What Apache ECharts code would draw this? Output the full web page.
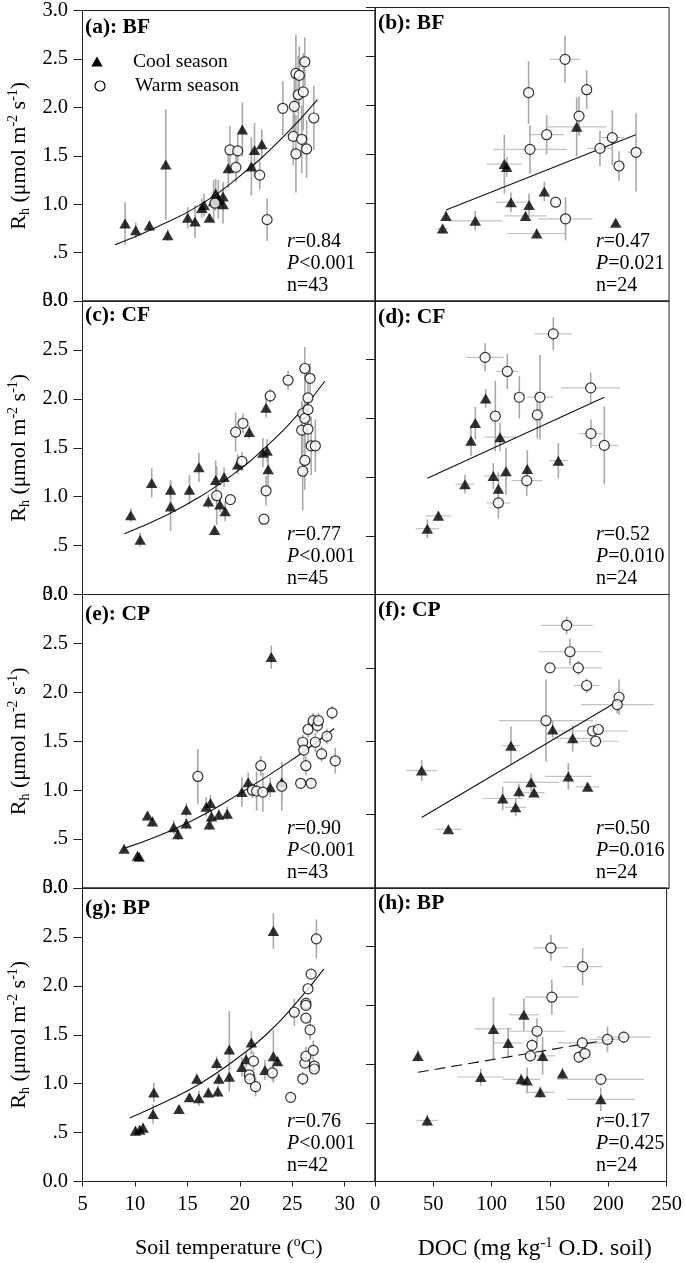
<!DOCTYPE html>
<html><head><meta charset="utf-8">
<script src="https://cdn.jsdelivr.net/npm/echarts@6/dist/echarts.min.js"></script>
<style>html,body{margin:0;padding:0;background:#fff}#c{width:685px;height:1263px}</style>
</head><body><div id="c"></div>
<script>
// ---------- DATA (x, Rh, yErr[, xErr]) ----------
// Panel (a) BF – soil temperature
const aCool = [[9.06,0.80,0.22],[10.08,0.73,0.08],[11.38,0.78,0.05],[12.94,1.41,0.57],[13.13,0.68,0.06],
 [15.03,0.86,0.11],[15.73,0.82,0.17],[16.37,0.96,0.10],[16.6,0.99,0.12],[17.1,0.86,0.04],
 [17.5,1.03,0.22],[17.7,1.11,0.15],[17.95,1.05,0.2],[18.4,1.00,0.2],[18.4,1.08,0.15],
 [18.9,1.37,0.2],[20.24,1.77,0.28],[21.1,1.39,0.3],[21.4,1.56,0.28],[22.1,1.62,0.15]];
const aWarm = [[17.63,1.01,0.08],[19.06,1.56,0.25],[19.63,1.38,0.15],[19.8,1.55,0.17],[21.9,1.30,0.15],
 [22.6,0.84,0.22],[24.1,1.99,0.28],[25.1,1.70,0.3],[25.2,2.01,0.3],[25.35,2.35,0.4],
 [25.35,1.52,0.4],[25.57,2.13,0.4],[25.67,2.33,0.3],[25.9,1.67,0.35],[26.05,2.16,0.4],
 [26.2,2.47,0.25],[26.37,1.57,0.3],[27.06,1.89,0.33]];
const aFit = [[8.1,0.58],[12,0.76],[16,0.98],[20,1.29],[24,1.68],[27.4,2.08]];
// Panel (b) BF – DOC
const bCool = [[57.5,0.74,0.05,5],[60.4,0.87,0.05,0],[85.3,0.82,0.1,23],[110,1.40,0.3,15],[112,1.37,0.1,0],
 [115.6,1.01,0.1,13],[128,0.87,0.05,18],[131,0.98,0.12,0],[137.5,0.69,0.05,25],[144,1.12,0.1,0],
 [171.5,1.78,0.3,25],[204.7,0.80,0.03,0]];
const bWarm = [[161.6,2.47,0.24,13],[130.6,2.13,0.32,0],[180,2.16,0.2,0],[173.5,1.89,0.2,0],[146,1.70,0.2,15],
 [131.8,1.55,0.25,31],[191.3,1.56,0.18,11],[201.8,1.67,0.28,10],[222,1.52,0.4,7],[207.5,1.38,0.15,0],
 [153.6,1.01,0,0],[162,0.84,0.22,23]];
const bFit = [[60.4,0.93],[221.7,1.70]];
// Panel (c) CF – soil temperature
const cCool = [[9.6,0.81,0.07],[10.5,0.56,0.07],[11.6,1.14,0.15],[13.4,1.07,0.1],[13.4,0.90,0.25],
 [15.2,1.07,0.15],[16.1,1.30,0.15],[17.0,0.95,0.07],[17.6,0.66,0.05],[17.7,1.17,0.2],
 [18.1,0.92,0.08],[18.5,1.20,0.1],[18.6,0.85,0.1],[19.8,1.33,0.1],[20.9,1.66,0.07],
 [22.2,1.45,0.15],[22.5,1.91,0.1],[22.6,1.47,0.12],[22.7,1.28,0.2]];
const cWarm = [[17.8,1.01,0.3],[19.1,0.97,0.05],[19.6,1.66,0.2],[20.2,1.36,0.1],[20.3,1.75,0.1],
 [22.3,0.77,0.03],[22.5,1.06,0.15],[22.9,2.03,0.07],[24.6,2.19,0.1],[25.9,1.68,0.3],
 [26.0,1.85,0.1],[26.0,1.26,0.4],[26.2,2.31,0.22],[26.2,1.80,0.3],[26.2,1.37,0.3],
 [26.5,2.01,0.2],[26.5,1.89,0.1],[26.5,1.69,0.2],[26.7,2.21,0.15],[26.8,1.52,0.3],[27.2,1.52,0.27]];
const cFit = [[9.0,0.62],[13,0.81],[16.2,1.0],[19.4,1.23],[22.6,1.52],[25.7,1.86],[28.1,2.18]];
// Panel (d) CF – DOC
const dCool = [[44.5,0.56,0.08,10],[53.9,0.67,0.04,11],[76.5,0.94,0.08,8],[81.6,1.31,0.13,0],[85.3,1.46,0.14,0],
 [94.1,1.67,0.08,0],[100.6,1.01,0.11,8],[104.9,0.90,0.14,0],[106.3,1.34,0.12,13],[111.4,1.05,0.2,0],
 [129.5,1.07,0.16,0],[155.9,1.14,0.15,8]];
const dWarm = [[151.6,2.22,0.14,16],[93.6,2.02,0.12,16],[112.5,1.90,0.15,9],[122.7,1.68,0.18,0],[140.3,1.68,0.36,11],
 [102.3,1.52,0.3,0],[138,1.53,0.2,0],[183.4,1.76,0.13,25],[183.6,1.37,0.12,10],[195,1.27,0.33,12],
 [129,0.97,0.13,13],[104.9,0.78,0.13,10]];
const dFit = [[44.5,0.99],[195,1.68]];
// Panel (e) CP – soil temperature
const eCool = [[8.97,0.40,0.03],[10.24,0.33,0.03],[10.4,0.32,0.03],[11.2,0.74,0.04],[11.67,0.68,0.05],
 [13.7,0.62,0.07],[14.1,0.55,0.06],[14.9,0.66,0.06],[14.9,0.80,0.07],[16.8,0.83,0.1],
 [17.1,0.65,0.06],[17.2,0.87,0.08],[17.3,0.73,0.06],[18.0,0.75,0.05],[18.8,0.76,0.07],
 [20.2,0.98,0.15],[20.8,1.08,0.1],[22.9,1.03,0.1],[23.0,2.36,0.12],[24.0,1.08,0.2]];
const eWarm = [[16.0,1.14,0.28],[21.2,1.00,0.08],[21.6,0.99,0.2],[22.0,1.25,0.1],[22.2,0.98,0.2],
 [24.0,1.04,0.25],[25.8,1.07,0.03],[26.0,1.49,0.08],[26.1,1.41,0.1],[26.3,1.25,0.1],
 [26.5,1.62,0.08],[26.8,1.07,0.03],[27.0,1.71,0.08],[27.2,1.49,0.1],[27.4,1.66,0.08],
 [27.5,1.71,0.08],[27.8,1.37,0.08],[28.3,1.55,0.08],[28.8,1.79,0.07],[29.1,1.30,0.13]];
const eFit = [[9.1,0.41],[14.9,0.66],[20.2,0.98],[25.5,1.35],[29,1.63]];
// Panel (f) CP – DOC
const fCool = [[39.7,0.80,0.07,13],[62.4,0.40,0.02,11],[108.6,0.61,0.08,17],[115.6,0.97,0.13,8],[119.6,0.55,0.06,9],
 [122.4,0.66,0.05,0],[132.7,0.72,0.06,24],[135.2,0.65,0.03,9],[151.1,1.08,0.06,0],[164.4,0.76,0.09,20],
 [168.1,1.02,0.09,15],[180.8,0.69,0.03,10]];
const fWarm = [[163,1.79,0.06,22],[165.8,1.61,0.09,27],[148.8,1.50,0.03,0],[172.9,1.50,0.05,20],[180,1.38,0.05,11],
 [145.4,1.14,0.28,40],[207.5,1.30,0.12,0],[206,1.25,0.06,31],[185.1,1.07,0.03,30],[189.9,1.08,0.03,0],
 [187.6,1.00,0.03,20]];
const fFit = [[39.7,0.48],[204,1.26]];
// Panel (g) BP – soil temperature
const gCool = [[10.05,0.52,0.05],[10.46,0.53,0.04],[10.78,0.55,0.05],[11.73,0.69,0.1],[11.8,0.91,0.1],
 [14.2,0.74,0.04],[15.2,0.86,0.04],[15.9,1.05,0.05],[16.1,0.85,0.08],[17.0,0.91,0.05],
 [17.8,1.21,0.07],[17.9,0.92,0.06],[18.0,1.05,0.06],[19.0,1.35,0.39],[19.0,1.07,0.15],
 [20.2,1.17,0.1],[20.6,1.25,0.08],[21.1,1.42,0.12],[22.4,1.14,0.1],[23.2,2.56,0.18],
 [23.2,1.28,0.27],[23.6,1.23,0.05]];
const gWarm = [[20.9,1.09,0.05],[20.95,1.05,0.05],[21.3,1.23,0.1],[21.5,0.97,0.1],[23.1,1.11,0.08],
 [24.85,0.86,0.05],[25.2,1.73,0.14],[26.0,1.05,0.07],[26.2,1.21,0.05],[26.3,1.82,0.06],
 [26.3,1.80,0.05],[26.3,1.67,0.05],[26.3,1.28,0.1],[26.5,1.97,0.06],[26.7,1.55,0.1],
 [26.8,2.12,0.05],[27.0,1.34,0.1],[27.1,1.18,0.06],[27.1,1.15,0.05],[27.3,2.48,0.2]];
const gFit = [[9.5,0.65],[13,0.82],[16.2,1.0],[19.5,1.24],[22.5,1.50],[25.5,1.84],[28,2.17]];
// Panel (h) BP – DOC
const hCool = [[36.8,1.07,0.05,0],[44.8,0.52,0.05,9],[90.7,0.89,0.07,20],[101.5,1.30,0.27,16],[114.2,1.18,0.13,12],
 [127.6,1.42,0.14,13],[125.3,0.87,0.05,16],[130.4,0.86,0.11,0],[143.7,1.07,0.16,11],[141.7,0.76,0.05,13],
 [160.7,0.92,0.05,0],[193.6,0.70,0.1,29]];
const hWarm = [[150.8,1.99,0.11,15],[178,1.83,0.16,17],[151.6,1.57,0.15,23],[138.9,1.28,0.11,24],[134.6,1.16,0.05,0],
 [133.2,1.07,0.05,0],[177.7,1.18,0.05,21],[174.9,1.06,0.05,0],[180,1.09,0.05,0],[199.3,1.21,0.11,15],
 [213.2,1.23,0.05,23],[193.6,0.87,0.05,37]];
const hFit = [[36.8,0.93],[213.2,1.23]];

const panelLabels = ['(a): BF','(b): BF','(c): CF','(d): CF','(e): CP','(f): CP','(g): BP','(h): BP'];
const statR = ['0.84','0.47','0.77','0.52','0.90','0.50','0.76','0.17'];
const statP = ['<0.001','=0.021','<0.001','=0.010','<0.001','=0.016','<0.001','=0.425'];
const statN = ['43','24','45','24','43','24','42','24'];
const tempTicks = [5,10,15,20,25,30];
const docTicks = [0,50,100,150,200,250];
const yTicks = [0,0.5,1,1.5,2,2.5,3];
const yMax = [3,3,3,2.5,3,2.0,3,2.5];

// ---------- LAYOUT ----------
const FONT = '"Liberation Serif","Times New Roman",serif';
const rowTop = [7.5, 301, 594.5, 888], rowH = 293.5;
const colLeft = [82.5, 375], colW = [292.5, 294];
const xRange = [[5, 32.89], [0, 250]];
const labelDy = [20, 16, 14, 16, 19.5, 16, 20, 15.5];
const labelX = [85, 378];
const statX = [287, 596];
const panels = [
  [aCool,aWarm,aFit],[bCool,bWarm,bFit],[cCool,cWarm,cFit],[dCool,dWarm,dFit],
  [eCool,eWarm,eFit],[fCool,fWarm,fFit],[gCool,gWarm,gFit],[hCool,hWarm,hFit]
];

function errRender(params, api) {
  const x = api.value(0), y = api.value(1), ey = api.value(2), ex = api.value(3);
  const ch = [];
  if (ey > 0) {
    const a = api.coord([x, y - ey]), b = api.coord([x, y + ey]);
    ch.push({type:'line', shape:{x1:a[0],y1:a[1],x2:b[0],y2:b[1]}, style:{stroke:'#a9a9a9', lineWidth:1.6}});
  }
  if (ex > 0) {
    const a = api.coord([x - ex, y]), b = api.coord([x + ex, y]);
    ch.push({type:'line', shape:{x1:a[0],y1:a[1],x2:b[0],y2:b[1]}, style:{stroke:'#c2c2c2', lineWidth:1.2}});
  }
  return {type:'group', children: ch};
}

const grids = [], xAxes = [], yAxes = [], series = [], graphics = [];
const richY = {
  m: {fontSize: 22, fontFamily: FONT, color: '#000', lineHeight: 26},
  sb: {fontSize: 14, fontFamily: FONT, color: '#000', lineHeight: 12, verticalAlign: 'bottom'},
  sp: {fontSize: 14, fontFamily: FONT, color: '#000', lineHeight: 12, verticalAlign: 'top'}
};
for (let i = 0; i < 8; i++) {
  const row = i >> 1, col = i & 1;
  const top = rowTop[row];
  grids.push({left: colLeft[col], top: top, width: colW[col], height: rowH,
    show: true, borderColor: '#222', borderWidth: 1, backgroundColor: 'transparent'});
  const bottom = row === 3;
  const xa = {
    gridIndex: i, type: 'value', min: xRange[col][0], max: xRange[col][1],
    axisLine: {show: true, lineStyle: {color: '#222', width: 1}},
    axisTick: {show: bottom, length: 5, customValues: col === 0 ? tempTicks : docTicks, lineStyle: {color: '#222'}},
    axisLabel: {show: bottom, customValues: col === 0 ? tempTicks : docTicks, margin: 13,
      fontSize: 20.5, fontFamily: FONT, color: '#000'},
    splitLine: {show: false}
  };
  if (bottom) {
    xa.nameLocation = 'middle';
    if (col === 0) {
      xa.name = '{m|Soil temperature (}{sp|o}{m|C)}';
      xa.nameGap = 54;
    } else {
      xa.name = '{m|DOC (mg kg}{sp|-1}{m| O.D. soil)}';
      xa.nameGap = 54;
    }
    const sz = col === 0 ? 22 : 23.5;
    xa.nameTextStyle = {fontFamily: FONT, fontSize: sz, color: '#000', padding: col === 0 ? 0 : [0,0,0,28],
      rich: {
        m: {fontSize: sz, fontFamily: FONT, color: '#000', lineHeight: 26},
        sp: {fontSize: sz * 0.62, fontFamily: FONT, color: '#000', lineHeight: 12, verticalAlign: 'top'}
      }};
  }
  xAxes.push(xa);
  const ya = {
    gridIndex: i, type: 'value', min: 0, max: yMax[i], interval: 0.5,
    axisLine: {show: true, lineStyle: {color: '#222', width: 1}},
    axisTick: {show: true, length: 9, lineStyle: {color: '#222'}},
    axisLabel: {show: col === 0, margin: 14.5, fontSize: 20.5, fontFamily: FONT, color: '#000',
      customValues: yTicks,
      formatter: v => v === 0 ? '0.0' : (Math.abs(v - 0.5) < 1e-9 ? '.5' : v.toFixed(1))},
    splitLine: {show: false}
  };
  if (col === 0) {
    ya.name = '{m|R}{sb|h}{m| (μmol m}{sp|-2}{m| s}{sp|-1}{m|)}';
    ya.nameLocation = 'middle';
    ya.nameRotate = 90;
    ya.nameGap = 50;
    ya.nameTextStyle = {fontFamily: FONT, fontSize: 22, color: '#000', rich: richY};
  }
  yAxes.push(ya);

  const [cool, warm, fit] = panels[i];
  const errData = cool.concat(warm).map(d => [d[0], d[1], d[2] || 0, d[3] || 0]);
  series.push({type: 'custom', xAxisIndex: i, yAxisIndex: i, renderItem: errRender,
    data: errData, encode: {x: 0, y: 1}, z: 1, silent: true, clip: false});
  series.push({type: 'line', xAxisIndex: i, yAxisIndex: i, data: fit, smooth: true, showSymbol: false,
    symbol: 'none', lineStyle: {color: '#111', width: 1.1, type: i === 7 ? [11, 6] : 'solid'}, z: 2, silent: true});
  series.push({type: 'scatter', name: 'Cool season', xAxisIndex: i, yAxisIndex: i,
    data: cool.map(d => [d[0], d[1]]), symbol: 'triangle', symbolSize: [11.5, 10],
    itemStyle: {color: '#000'}, z: 3, silent: true});
  series.push({type: 'scatter', name: 'Warm season', xAxisIndex: i, yAxisIndex: i,
    data: warm.map(d => [d[0], d[1]]), symbol: 'circle', symbolSize: 10,
    itemStyle: {color: '#fff', borderColor: '#000', borderWidth: 1.2}, z: 4, silent: true});

  // panel label
  graphics.push({type: 'text', x: labelX[col], y: top + labelDy[i], z: 10,
    style: {text: panelLabels[i], fontFamily: FONT, fontSize: 21.5, fontWeight: 'bold', fill: '#000', verticalAlign: 'middle'}});
  // stats
  const rich = {i: {fontStyle: 'italic', fontFamily: FONT, fontSize: 20, fill: '#000'}, t: {fontFamily: FONT, fontSize: 20, fill: '#000'}};
  graphics.push({type: 'text', x: statX[col], y: top + 234, z: 10,
    style: {text: '{i|r}{t|=' + statR[i] + '}', rich, fontFamily: FONT, fontSize: 20, fill: '#000', verticalAlign: 'middle'}});
  graphics.push({type: 'text', x: statX[col], y: top + 256, z: 10,
    style: {text: '{i|P}{t|' + statP[i] + '}', rich, fontFamily: FONT, fontSize: 20, fill: '#000', verticalAlign: 'middle'}});
  graphics.push({type: 'text', x: statX[col], y: top + 278, z: 10,
    style: {text: 'n=' + statN[i], fontFamily: FONT, fontSize: 20, fill: '#000', verticalAlign: 'middle'}});
}
// legend in panel (a)
graphics.push({type: 'polygon', shape: {points: [[97, 56.5], [102.7, 66.5], [91.3, 66.5]]}, style: {fill: '#000'}});
graphics.push({type: 'circle', shape: {cx: 100, cy: 86, r: 5}, style: {fill: '#fff', stroke: '#000', lineWidth: 1.2}});
graphics.push({type: 'text', x: 133, y: 62, style: {text: 'Cool season', fontFamily: FONT, fontSize: 19.5, fill: '#000', verticalAlign: 'middle'}});
graphics.push({type: 'text', x: 135, y: 86, style: {text: 'Warm season', fontFamily: FONT, fontSize: 19.5, fill: '#000', verticalAlign: 'middle'}});

const chart = echarts.init(document.getElementById('c'), null, {renderer: 'canvas'});
chart.setOption({
  animation: false,
  backgroundColor: '#fff',
  grid: grids, xAxis: xAxes, yAxis: yAxes, series: series, graphic: graphics
});
</script></body></html>
